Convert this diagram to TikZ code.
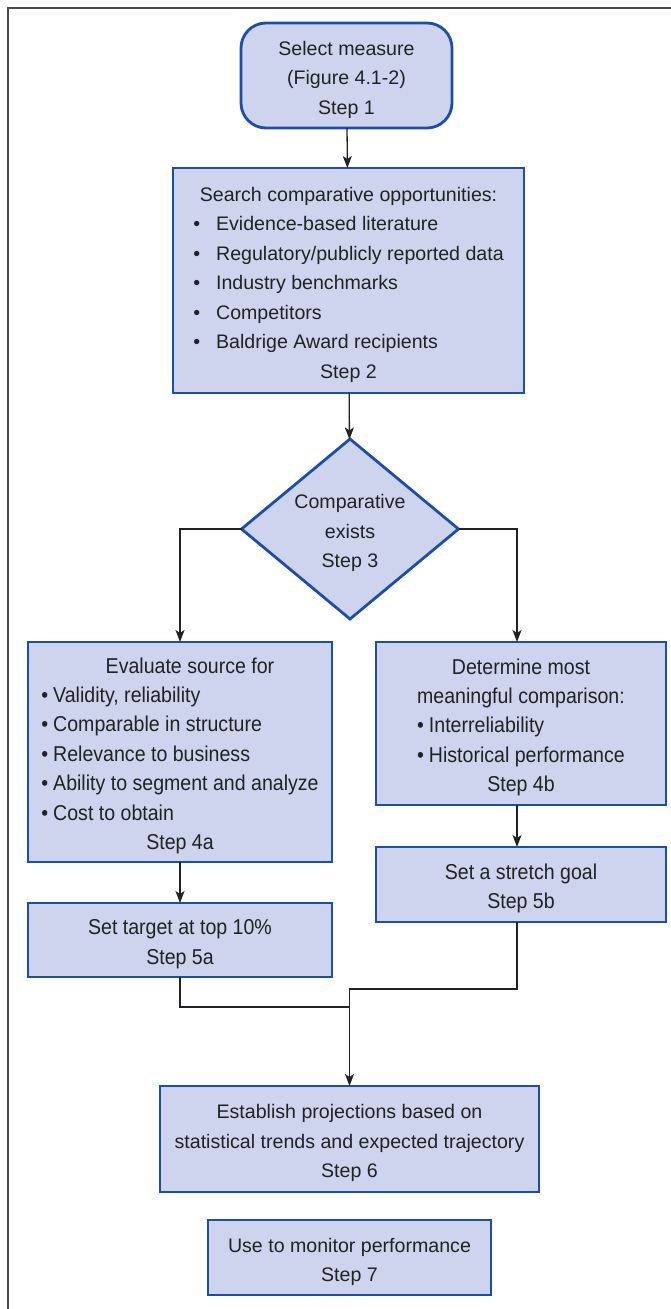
\documentclass[tikz,border=0pt]{standalone}
\usepackage{fontspec}
\setmainfont{Liberation Sans}
\newfontfamily\narrowfont[FakeStretch=0.91]{Liberation Sans}
\usetikzlibrary{shapes.geometric,arrows.meta,positioning}
\definecolor{boxfill}{HTML}{CED4EE}
\definecolor{boxline}{HTML}{1C4DA8}
\definecolor{framegray}{HTML}{4A4A4A}
\definecolor{inkgray}{HTML}{222222}
\newcommand{\bul}{\textbullet\hspace{16pt}}
\newcommand{\nbul}{\textbullet\hspace{5pt}}
\newcommand{\fst}{\rule{0pt}{27.5pt}}

\begin{document}
\begin{tikzpicture}[x=1pt,y=-1pt]

\tikzstyle{box}=[draw=boxline,fill=boxfill,text=inkgray,line width=2.8pt,inner sep=0pt,outer sep=0pt,font=\fontsize{19.6}{29.5}\selectfont]
\tikzstyle{nbox}=[box,font=\narrowfont\fontsize{21.5}{29.4}\selectfont]
\tikzstyle{decision}=[box,diamond,inner sep=-20pt]
\tikzstyle{conn}=[line width=1.3pt,draw=inkgray]
\tikzstyle{arr}=[conn,-{Stealth[length=12pt,width=9pt,inset=3pt]}]

\useasboundingbox (0,0) rectangle (671,1309);
\draw [framegray,line width=2pt] (7.5,1309) -- (7.5,8) -- (671,8);

\node (step1) [box,rounded corners=25pt,minimum width=211pt,minimum height=105pt] at (346.5,75.5) {\begin{tabular}{@{}c@{}}\fst Select measure\\(Figure 4.1-2)\\Step 1\end{tabular}};

\node (step2) [box,minimum width=351pt,minimum height=225pt] at (348.5,280.5) {\begin{tabular}{@{}l@{}}
\multicolumn{1}{@{}c@{}}{\fst Search comparative opportunities:}\\
\bul Evidence-based literature\\
\bul Regulatory/publicly reported data\\
\bul Industry benchmarks\\
\bul Competitors\\
\bul Baldrige Award recipients\\
\multicolumn{1}{@{}c@{}}{Step 2}
\end{tabular}};

\node (step3) [decision,minimum width=217pt,minimum height=180pt] at (350,529) {\begin{tabular}{@{}c@{}}\fst Comparative\\exists\\Step 3\end{tabular}};

\node (step4a) [nbox,minimum width=304pt,minimum height=220pt] at (180,752) {\begin{tabular}{@{}l@{}}
\multicolumn{1}{@{}c@{}}{\fst\hspace{20pt}Evaluate source for}\\
\nbul Validity, reliability\\
\nbul Comparable in structure\\
\nbul Relevance to business\\
\nbul Ability to segment and analyze\\
\nbul Cost to obtain\\
\multicolumn{1}{@{}c@{}}{Step 4a}
\end{tabular}};

\node (step4b) [nbox,minimum width=290pt,minimum height=163pt] at (521,723.5) {\begin{tabular}{@{}l@{}}
\multicolumn{1}{@{}c@{}}{\fst Determine most}\\
\multicolumn{1}{@{}c@{}}{meaningful comparison:}\\
\nbul Interreliability\\
\nbul Historical performance\\
\multicolumn{1}{@{}c@{}}{Step 4b}
\end{tabular}};

\node (step5a) [nbox,minimum width=304pt,minimum height=74pt] at (180,940) {\begin{tabular}{@{}c@{}}\fst Set target at top 10\%\\Step 5a\end{tabular}};
\node (step5b) [nbox,minimum width=290pt,minimum height=75pt] at (521,884.5) {\begin{tabular}{@{}c@{}}\fst Set a stretch goal\\Step 5b\end{tabular}};

\node (step6) [box,minimum width=379pt,minimum height=106pt] at (349.5,1139) {\begin{tabular}{@{}c@{}}\fst Establish projections based on\\statistical trends and expected trajectory\\Step 6\end{tabular}};
\node (step7) [box,minimum width=283pt,minimum height=75pt] at (349.5,1257.5) {\begin{tabular}{@{}c@{}}\fst Use to monitor performance\\Step 7\end{tabular}};

% connectors
\draw [arr] (step1) -- (step2);
\draw [arr] (step2) -- (step3);
\draw [arr] (step3.west) -| (step4a.north);
\draw [arr] (step3.east) -| ([xshift=-4pt]step4b.north);
\draw [arr] (step4a) -- (step5a);
\draw [arr] ([xshift=-4pt]step4b.south) -- ([xshift=-4pt]step5b.north);

\coordinate (mergeb) at (349.5,989);
\coordinate (mergea) at (349.5,1007);
\draw [arr] ([xshift=-4pt]step5b.south) |- (mergeb) -- (step6.north);
\draw [conn] (step5a.south) |- (mergea);

\end{tikzpicture}
\end{document}
